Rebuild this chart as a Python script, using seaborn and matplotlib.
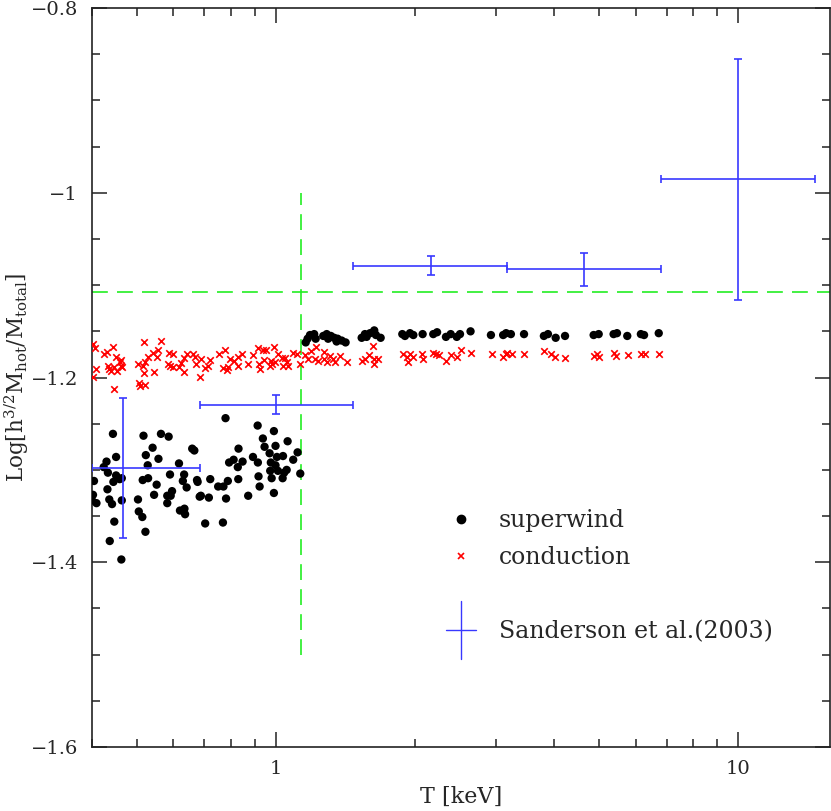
import matplotlib
matplotlib.use('Agg')
import matplotlib.pyplot as plt
import matplotlib.ticker as ticker
import pandas as pd
import seaborn as sns
from matplotlib.container import ErrorbarContainer
from matplotlib.legend_handler import HandlerBase
from matplotlib.lines import Line2D

# superwind model (black dots): T [keV], Log[h^3/2 Mhot/Mtotal]
sw_T = [0.444, 0.517, 0.564, 0.586, 0.451, 0.430, 0.424, 0.433, 0.404, 0.445,
        0.451, 0.464, 0.459, 0.523, 0.557, 0.528, 0.541, 0.515, 0.529, 0.552,
        0.432, 0.402, 0.400, 0.409, 0.436, 0.442, 0.464, 0.503, 0.505, 0.514,
        0.447, 0.522, 0.437, 0.463, 0.545, 0.582, 0.592, 0.582, 0.596, 0.590,
        0.617, 0.633, 0.629, 0.641, 0.620, 0.634, 0.636, 0.659, 0.666, 0.675,
        0.778, 0.913, 0.990, 0.937, 1.060, 0.945, 0.998, 0.830, 0.969, 1.036,
        1.005, 0.892, 0.810, 0.847, 0.792, 0.914, 0.827, 0.975, 0.998, 1.090,
        1.114, 0.972, 1.010, 1.055, 1.042, 1.034, 0.979, 0.917, 0.829, 0.787,
        0.721, 0.677, 0.750, 0.770, 0.922, 0.688, 0.684, 0.716, 0.780, 0.871,
        0.990, 1.129, 0.703, 0.768,
        1.160, 1.171, 1.185, 1.210, 1.219, 1.266, 1.288, 1.315, 1.337, 1.360,
        1.388, 1.415, 1.353, 1.297, 1.533, 1.558, 1.598, 1.632, 1.646, 1.685,
        1.571, 1.877, 1.902, 1.950, 1.983, 2.077, 2.190, 2.232, 2.333, 2.389,
        2.462, 2.502, 2.637, 2.919, 3.102, 3.148, 3.224, 3.442, 3.800, 3.878,
        4.030, 4.222, 4.869, 4.993, 5.378, 5.469, 5.757, 6.161, 6.259, 6.734]
sw_logf = [-1.261, -1.263, -1.261, -1.264, -1.286, -1.291, -1.297, -1.303, -1.312, -1.313,
           -1.306, -1.309, -1.310, -1.284, -1.288, -1.295, -1.276, -1.311, -1.309, -1.316,
           -1.321, -1.327, -1.333, -1.336, -1.332, -1.337, -1.333, -1.332, -1.345, -1.351,
           -1.356, -1.367, -1.377, -1.397, -1.327, -1.328, -1.328, -1.336, -1.323, -1.305,
           -1.293, -1.305, -1.312, -1.319, -1.344, -1.342, -1.348, -1.277, -1.279, -1.311,
           -1.244, -1.252, -1.258, -1.266, -1.269, -1.275, -1.274, -1.277, -1.282, -1.285,
           -1.286, -1.286, -1.289, -1.291, -1.292, -1.292, -1.297, -1.292, -1.295, -1.289,
           -1.281, -1.301, -1.301, -1.300, -1.303, -1.309, -1.309, -1.307, -1.310, -1.312,
           -1.310, -1.313, -1.318, -1.318, -1.318, -1.328, -1.329, -1.330, -1.331, -1.328,
           -1.325, -1.304, -1.358, -1.357,
           -1.162, -1.158, -1.154, -1.153, -1.158, -1.155, -1.153, -1.155, -1.157, -1.158,
           -1.160, -1.162, -1.161, -1.158, -1.157, -1.153, -1.152, -1.149, -1.154, -1.157,
           -1.156, -1.153, -1.155, -1.152, -1.154, -1.153, -1.153, -1.151, -1.156, -1.153,
           -1.156, -1.153, -1.150, -1.154, -1.154, -1.152, -1.153, -1.153, -1.155, -1.153,
           -1.157, -1.155, -1.154, -1.153, -1.153, -1.152, -1.155, -1.153, -1.154, -1.152]

# conduction model (red crosses)
cond_T = [0.402, 0.406, 0.424, 0.431, 0.444, 0.451, 0.408, 0.402, 0.433, 0.436,
          0.440, 0.447, 0.453, 0.459, 0.462, 0.464, 0.462, 0.446, 0.518, 0.563,
          0.557, 0.542, 0.529, 0.522, 0.503, 0.515, 0.518, 0.546, 0.553, 0.586,
          0.598, 0.584, 0.591, 0.598, 0.616, 0.624, 0.632, 0.641, 0.661, 0.667,
          0.672, 0.634, 0.505, 0.522, 0.507,
          0.688, 0.720, 0.714, 0.702, 0.685, 0.753, 0.775, 0.795, 0.769, 0.782,
          0.788, 0.812, 0.828, 0.845, 0.826, 0.871, 0.893, 0.915, 0.918, 0.923,
          0.939, 0.950, 0.943, 0.971, 0.975, 0.982, 0.992, 0.995, 1.009, 1.032,
          1.046, 1.055, 1.037, 1.060, 1.090, 1.109,
          1.127, 1.155, 1.175, 1.190, 1.219, 1.214, 1.235, 1.272, 1.272, 1.287,
          1.309, 1.331, 1.342, 1.375, 1.422, 1.533, 1.558, 1.589, 1.624, 1.632,
          1.630, 1.665, 1.886, 1.917, 1.950, 1.933, 1.983, 2.073,
          2.077, 2.184, 2.219, 2.255, 2.333, 2.389, 2.462, 2.513, 2.637, 2.929,
          3.102, 3.148, 3.167, 3.240, 3.442, 3.800,
          3.936, 4.017, 4.222, 4.869, 4.952, 4.993, 5.378, 5.453, 5.768, 6.161,
          6.291, 6.734]
cond_logf = [-1.164, -1.168, -1.174, -1.172, -1.167, -1.178, -1.191, -1.199, -1.188, -1.191,
             -1.193, -1.189, -1.193, -1.183, -1.187, -1.189, -1.181, -1.212, -1.162, -1.160,
             -1.170, -1.173, -1.178, -1.183, -1.185, -1.188, -1.195, -1.194, -1.178, -1.173,
             -1.175, -1.185, -1.188, -1.189, -1.189, -1.184, -1.179, -1.175, -1.174, -1.178,
             -1.185, -1.194, -1.206, -1.208, -1.209,
             -1.180, -1.181, -1.187, -1.190, -1.199, -1.175, -1.170, -1.180, -1.190, -1.192,
             -1.189, -1.182, -1.178, -1.175, -1.188, -1.185, -1.176, -1.168, -1.185, -1.191,
             -1.170, -1.170, -1.181, -1.188, -1.182, -1.185, -1.167, -1.183, -1.175, -1.179,
             -1.179, -1.183, -1.188, -1.188, -1.173, -1.175,
             -1.185, -1.176, -1.180, -1.171, -1.167, -1.180, -1.182, -1.172, -1.180, -1.183,
             -1.177, -1.180, -1.183, -1.177, -1.183, -1.182, -1.180, -1.176, -1.166, -1.180,
             -1.185, -1.180, -1.174, -1.178, -1.174, -1.183, -1.178, -1.174,
             -1.180, -1.173, -1.175, -1.176, -1.182, -1.176, -1.178, -1.170, -1.173, -1.174,
             -1.178, -1.175, -1.173, -1.175, -1.175, -1.171,
             -1.175, -1.178, -1.179, -1.177, -1.174, -1.178, -1.173, -1.177, -1.176, -1.174,
             -1.175, -1.174]

# Sanderson et al. (2003) binned data
sand_T = [0.467, 1.0, 2.165, 4.64, 10.0]
sand_T_lo = [0.40, 0.685, 1.47, 3.17, 6.81]
sand_T_hi = [0.685, 1.47, 3.17, 6.81, 14.7]
sand_logf = [-1.298, -1.230, -1.079, -1.083, -0.9855]
sand_logf_lo = [-1.374, -1.2395, -1.089, -1.1006, -1.116]
sand_logf_hi = [-1.222, -1.2186, -1.068, -1.065, -0.855]

# reference levels (green dashed)
ref_logf = -1.107
ref_T = 1.133
ref_T_ylim = (-1.5, -1.0)

blue = '#3838ff'
green = '#22ee22'


class HandlerCross(HandlerBase):
    def create_artists(self, legend, orig_handle, xdescent, ydescent,
                       width, height, fontsize, trans):
        cx = width / 2 - xdescent
        cy = height / 2 - ydescent
        hl = Line2D([cx - 10.8, cx + 10.8], [cy, cy], color=blue, lw=1.0, transform=trans)
        vl = Line2D([cx, cx], [cy - 21, cy + 21], color=blue, lw=1.0, transform=trans)
        return [hl, vl]


sns.set_style('ticks')
plt.rcParams['font.family'] = ['DejaVu Serif']
plt.rcParams['mathtext.fontset'] = 'dejavuserif'

df_sw = pd.DataFrame({'T': sw_T, 'logf': sw_logf})
df_cond = pd.DataFrame({'T': cond_T, 'logf': cond_logf})

fig = plt.figure(figsize=(8.31, 8.11), dpi=100)
ax = fig.add_axes([0.1107, 0.0789, 0.888, 0.9112])
ax.set_xscale('log')

sns.scatterplot(data=df_sw, x='T', y='logf', color='black', marker='o',
                s=36, edgecolor='none', ax=ax, zorder=3)
sns.scatterplot(data=df_cond, x='T', y='logf', color='#ff0000', marker='x',
                s=22, linewidth=1.2, ax=ax, zorder=3)

xerr = [[t - lo for t, lo in zip(sand_T, sand_T_lo)],
        [hi - t for t, hi in zip(sand_T, sand_T_hi)]]
yerr = [[v - lo for v, lo in zip(sand_logf, sand_logf_lo)],
        [hi - v for v, hi in zip(sand_logf, sand_logf_hi)]]
eb = ax.errorbar(sand_T, sand_logf, xerr=xerr, yerr=yerr, fmt='none',
                 ecolor=blue, elinewidth=1.2, capsize=3, capthick=1.2, zorder=4)

ax.axhline(ref_logf, color=green, lw=1.2, dashes=(9.5, 5.5), zorder=2)
ax.vlines(ref_T, *ref_T_ylim, color=green, lw=1.2, linestyles=(0, (9.5, 5.5)), zorder=2)

ax.set_xlim(0.4, 15.8)
ax.set_ylim(-1.6, -0.8)
ax.xaxis.set_major_locator(ticker.FixedLocator([1, 10]))
ax.xaxis.set_minor_locator(ticker.LogLocator(base=10, subs=range(2, 10)))
ax.xaxis.set_major_formatter(ticker.FuncFormatter(lambda v, p: f'{v:g}'))
ax.xaxis.set_minor_formatter(ticker.NullFormatter())
ax.yaxis.set_major_locator(ticker.MultipleLocator(0.2))
ax.yaxis.set_minor_locator(ticker.MultipleLocator(0.05))
ax.yaxis.set_major_formatter(ticker.FuncFormatter(
    lambda v, p: f'{v:g}'.replace('-', '\u2212')))

ax.tick_params(which='both', direction='in', top=True, right=True,
               color='#222222', width=1.1, labelsize=14)
ax.tick_params(which='major', length=11)
ax.tick_params(which='minor', length=6)
ax.tick_params(axis='y', which='major', pad=10)
ax.tick_params(axis='x', which='major', pad=9)
for sp in ax.spines.values():
    sp.set_linewidth(1.2)
    sp.set_color('#222222')

ax.set_xlabel('T [keV]', fontsize=16, labelpad=6)
ax.set_ylabel(r'Log$\left[\mathrm{h}^{3/2}\mathrm{M}_{\mathrm{hot}}/\mathrm{M}_{\mathrm{total}}\right]$',
              fontsize=15.5, labelpad=0)

h_sw = Line2D([], [], marker='o', color='black', linestyle='none', markersize=6)
h_cond = Line2D([], [], marker='x', color='#ff0000', linestyle='none',
                markersize=5, markeredgewidth=1.2)
h_blank = Line2D([], [], linestyle='none')
leg = ax.legend([h_sw, h_cond, h_blank, eb],
                ['superwind', 'conduction', ' ', 'Sanderson et al.(2003)'],
                handler_map={ErrorbarContainer: HandlerCross()},
                loc='upper left', bbox_to_anchor=(0.48, 0.322), frameon=False,
                fontsize=17, handlelength=1.27, handletextpad=0.97,
                labelspacing=0.6, borderpad=0, borderaxespad=0)

fig.savefig('out.png', dpi=100)
